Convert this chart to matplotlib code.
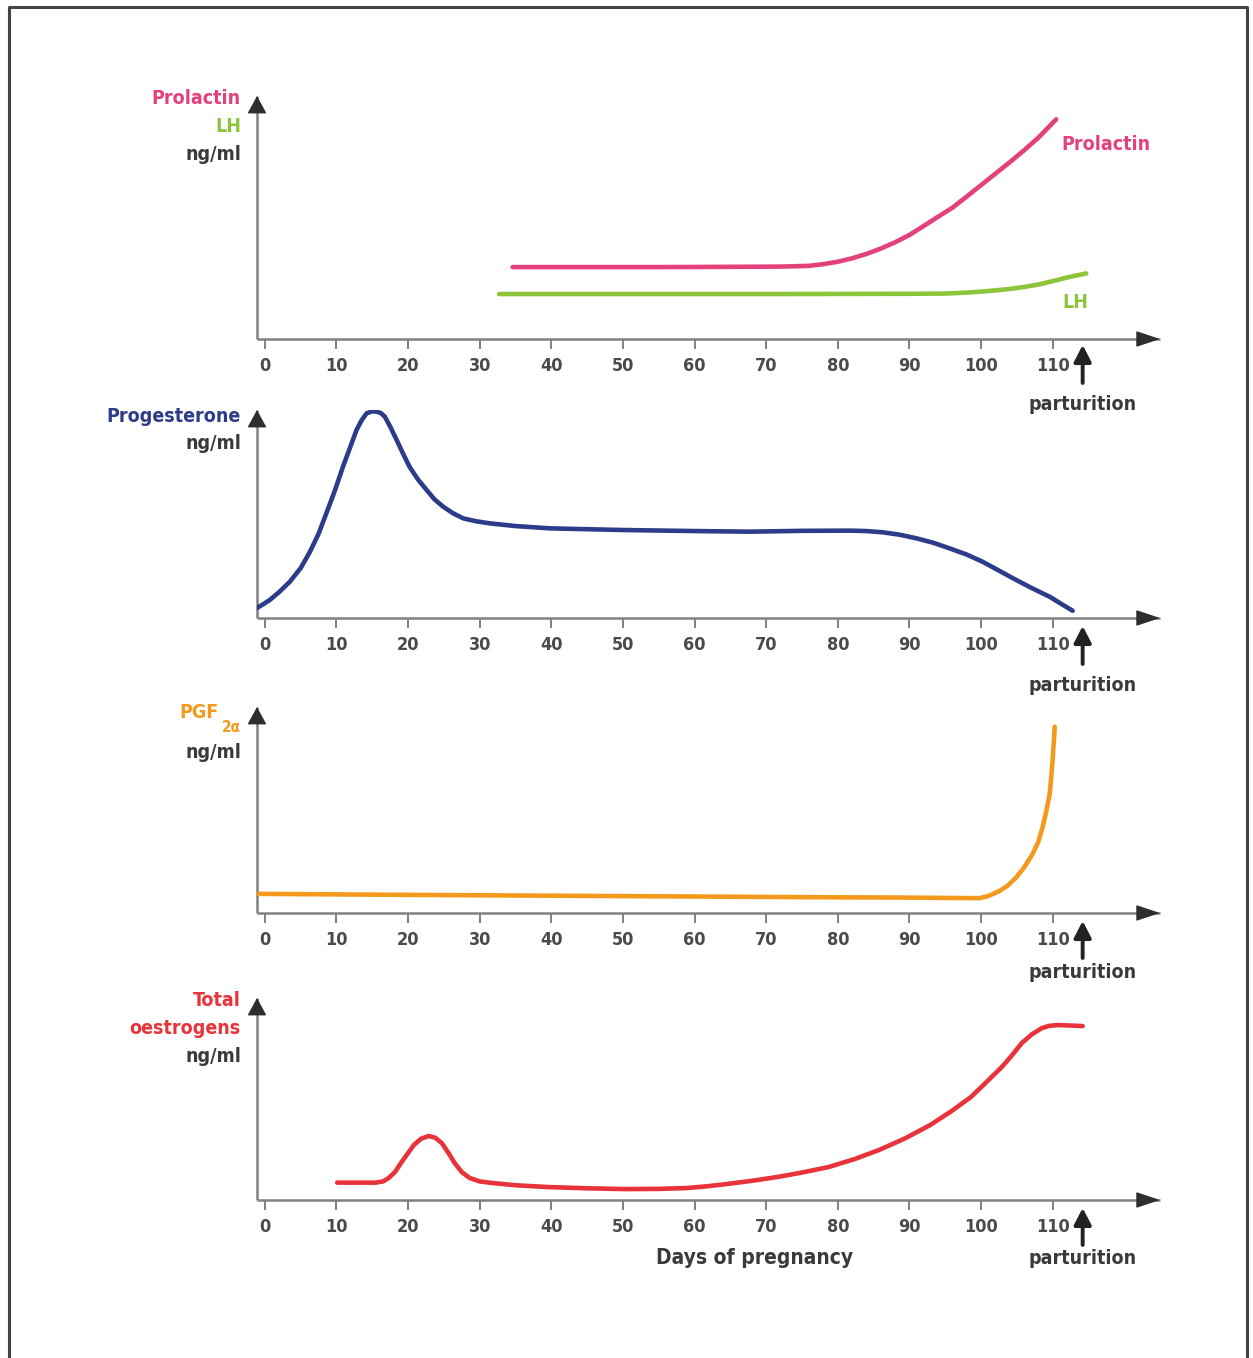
import matplotlib
matplotlib.use("Agg")
import matplotlib.pyplot as plt
from matplotlib.lines import Line2D

# ---- data (relative hormone levels, arbitrary units 0-100) ----
days_ticks = [0, 10, 20, 30, 40, 50, 60, 70, 80, 90, 100, 110]
tick_labels = [str(d) for d in days_ticks]
parturition_day = 114.2

prolactin_days = [34.6, 45, 55, 65, 72, 76, 78, 80, 82, 84, 86, 88, 90, 92, 94, 96, 98, 100,
                  102, 104, 106, 108, 110.5]
prolactin_vals = [29.6, 29.6, 29.6, 29.7, 29.8, 30.1, 30.8, 31.8, 33.2, 35.0, 37.2, 39.8, 42.8,
                  46.5, 50.3, 54.0, 58.6, 63.3, 68.0, 72.7, 77.6, 82.8, 90.4]

lh_days = [32.7, 50, 70, 90, 95, 98, 100, 102, 104, 106, 108, 110, 112, 114.7]
lh_vals = [18.5, 18.5, 18.5, 18.6, 18.7, 19.1, 19.5, 20.0, 20.6, 21.4, 22.4, 23.8, 25.3, 27.0]

prog_days = [-1.16, -0.2, 0.7, 2.0, 3.5, 5.0, 6.3, 7.5, 8.6, 9.8, 10.9, 11.9, 12.8, 13.5, 14.2,
             15.0, 15.6, 16.2, 16.75, 17.5, 18.4, 19.3, 20.2, 21.4, 22.6, 23.7, 24.9, 26.3, 27.7,
             29.5, 31.4, 35.0, 39.8, 50, 60, 67.7, 75, 81.7, 84, 86.3, 88.7, 91, 93.3, 95.6,
             98.0, 100.2, 102.5, 104.9, 107.2, 109.6, 111.2, 112.8]
prog_vals = [4.7, 6.7, 8.7, 12.5, 17.5, 24.0, 31.9, 40.5, 50.5, 61.5, 72.7, 82.0, 90.4, 95.0, 98.4,
             99.4, 99.2, 98.5, 96.8, 92.0, 85.6, 79.0, 72.7, 66.5, 61.5, 57.0, 53.5, 50.3, 47.9,
             46.5, 45.5, 44.2, 43.1, 42.3, 41.8, 41.5, 41.9, 42.0, 41.8, 41.2, 40.0, 38.3, 36.2,
             33.5, 30.5, 27.1, 22.8, 18.3, 14.2, 10.2, 6.8, 3.5]

pgf_days = [-1.1, 20, 50, 80, 88.6, 96, 99.8, 101.0, 102.6, 103.8, 104.9, 106.0, 107.2, 108.0,
            108.6, 109.1, 109.6, 109.8, 110.0, 110.15, 110.3]
pgf_vals = [9.3, 8.8, 8.2, 7.6, 7.5, 7.3, 7.2, 8.2, 10.7, 13.5, 17.2, 22.0, 28.6, 34.5,
            41.6, 49.0, 57.9, 65.5, 74.1, 82.0, 90.4]

oes_days = [10.1, 15.5, 16.5, 17.3, 18.2, 19.0, 19.9, 20.8, 21.8, 22.9, 23.8, 24.7, 25.6, 26.5,
            27.5, 28.6, 30.0, 31.8, 35.0, 39.6, 45, 50.3, 55, 58.8, 61.5, 64.5, 68.0, 71.6, 75.0,
            78.7, 82.3, 85.8, 89.4, 92.9, 95.8, 98.6, 100.8, 102.9, 104.3, 105.7, 107.1, 108.5,
            109.5, 110.6, 112.4, 114.2]
oes_vals = [8.6, 8.6, 9.2, 10.9, 14.0, 18.3, 22.8, 27.2, 30.3, 31.7, 30.8, 28.2, 23.5, 18.3,
            13.8, 10.9, 9.2, 8.4, 7.3, 6.4, 5.8, 5.4, 5.5, 5.9, 6.7, 7.9, 9.5, 11.4, 13.6,
            16.3, 20.2, 24.8, 30.5, 37.1, 43.8, 51.0, 58.5, 65.8, 71.5, 77.7, 82.0, 85.1,
            86.2, 86.6, 86.4, 86.1]

# ---- colours ----
C_PRL = "#e2417c"
C_LH = "#8cc43a"
C_PROG = "#2c3b8a"
C_PGF = "#f39a1c"
C_OES = "#e8333b"
C_TXT = "#3a3a3a"
C_AXIS = "#808080"
C_HEAD = "#2e2e2e"

plt.rcParams["font.family"] = ["DejaVu Sans"]
plt.rcParams["font.stretch"] = "condensed"
plt.rcParams["font.weight"] = "bold"

W, H = 1253, 1358
fig = plt.figure(figsize=(W / 100, H / 100), dpi=100)
fig.patch.set_facecolor("white")

XMIN, XMAX = -1.1, 125.0
AX_LEFT, AX_RIGHT = 257, 1160
LBL = 14
CURVE_LW = 3.3


def fx(px):
    return px / W


def fy(py):
    return 1 - py / H


# page frame (left, top, right)
fig.add_artist(Line2D([fx(9), fx(9), fx(1247), fx(1247)], [0, fy(7), fy(7), 0],
                      transform=fig.transFigure, color="#444444", lw=2.2))


def make_panel(axis_px, tip_px, label_gap, arrow_tip, arrow_len):
    ax = fig.add_axes([fx(AX_LEFT), fy(axis_px), (AX_RIGHT - AX_LEFT) / W, (axis_px - tip_px) / H])
    ax.set_xlim(XMIN, XMAX)
    ax.set_ylim(0, 100)
    for s in ax.spines.values():
        s.set_visible(False)
    ax.patch.set_alpha(0)
    ax.set_yticks([])
    ax.set_xticks(days_ticks)
    ax.set_xticklabels(tick_labels)
    ax.tick_params(axis="x", direction="out", length=7, width=1.4, color=C_AXIS,
                   pad=6, labelsize=13, labelcolor="#4a4a4a")
    # axis lines
    ax.plot([XMIN, XMAX], [0, 0], color=C_AXIS, lw=1.8, clip_on=False, solid_capstyle="butt")
    ax.plot([XMIN, XMIN], [0, 100], color=C_AXIS, lw=1.8, clip_on=False, solid_capstyle="butt")
    # dark arrowheads at the axis ends
    ax.annotate("", xy=(XMAX, 0), xytext=(-20, 0), textcoords="offset pixels",
                arrowprops=dict(arrowstyle="-|>,head_length=0.75,head_width=0.25", color=C_HEAD,
                                lw=1, mutation_scale=20, shrinkA=0, shrinkB=0),
                annotation_clip=False)
    ax.annotate("", xy=(XMIN, 100), xytext=(0, -16), textcoords="offset pixels",
                arrowprops=dict(arrowstyle="-|>,head_length=0.55,head_width=0.3", color=C_HEAD,
                                lw=1, mutation_scale=20, shrinkA=0, shrinkB=0),
                annotation_clip=False)
    # parturition marker
    ax.annotate("", xy=(parturition_day, 0), xycoords="data",
                xytext=(0, -arrow_tip - arrow_len), textcoords="offset pixels",
                arrowprops=dict(arrowstyle="-|>,head_length=0.5,head_width=0.26", color="#222222",
                                lw=2.8, mutation_scale=20, shrinkA=0, shrinkB=arrow_tip * 0.72),
                annotation_clip=False)
    ax.annotate("parturition", xy=(parturition_day, 0), xycoords="data",
                xytext=(0, -label_gap), textcoords="offset pixels",
                ha="center", va="center", fontsize=LBL, color=C_TXT,
                annotation_clip=False)
    return ax


# panel 1: prolactin and LH
ax1 = make_panel(339, 96, 66, 6, 38)
ax1.plot(prolactin_days, prolactin_vals, color=C_PRL, lw=CURVE_LW, solid_capstyle="round")
ax1.plot(lh_days, lh_vals, color=C_LH, lw=CURVE_LW, solid_capstyle="round")
fig.text(fx(241), fy(98), "Prolactin", color=C_PRL, ha="right", va="center", fontsize=LBL)
fig.text(fx(241), fy(126), "LH", color=C_LH, ha="right", va="center", fontsize=LBL)
fig.text(fx(241), fy(154), "ng/ml", color=C_TXT, ha="right", va="center", fontsize=LBL)
fig.text(fx(1106), fy(145), "Prolactin", color=C_PRL, ha="center", va="center", fontsize=LBL)
fig.text(fx(1075), fy(302), "LH", color=C_LH, ha="center", va="center", fontsize=LBL)

# panel 2: progesterone
ax2 = make_panel(618, 410, 68, 8, 38)
ax2.plot(prog_days, prog_vals, color=C_PROG, lw=CURVE_LW, solid_capstyle="round")
fig.text(fx(241), fy(416), "Progesterone", color=C_PROG, ha="right", va="center", fontsize=LBL)
fig.text(fx(241), fy(444), "ng/ml", color=C_TXT, ha="right", va="center", fontsize=LBL)

# panel 3: PGF2alpha
ax3 = make_panel(913, 707, 59, 8, 37)
ax3.plot(pgf_days, pgf_vals, color=C_PGF, lw=CURVE_LW, solid_capstyle="round")
fig.text(fx(219), fy(713), "PGF", color=C_PGF, ha="right", va="center", fontsize=LBL)
fig.text(fx(241), fy(728), "2\u03b1", color=C_PGF, ha="right", va="center", fontsize=11)
fig.text(fx(241), fy(752), "ng/ml", color=C_TXT, ha="right", va="center", fontsize=LBL)

# panel 4: total oestrogens
ax4 = make_panel(1200, 998, 59, 8, 37)
ax4.plot(oes_days, oes_vals, color=C_OES, lw=CURVE_LW, solid_capstyle="round")
fig.text(fx(241), fy(1000), "Total", color=C_OES, ha="right", va="center", fontsize=LBL)
fig.text(fx(241), fy(1028), "oestrogens", color=C_OES, ha="right", va="center", fontsize=LBL)
fig.text(fx(241), fy(1056), "ng/ml", color=C_TXT, ha="right", va="center", fontsize=LBL)
fig.text(fx(755), fy(1258), "Days of pregnancy", color=C_TXT, ha="center", va="center", fontsize=15)

fig.savefig("out.png", dpi=100, facecolor="white")
